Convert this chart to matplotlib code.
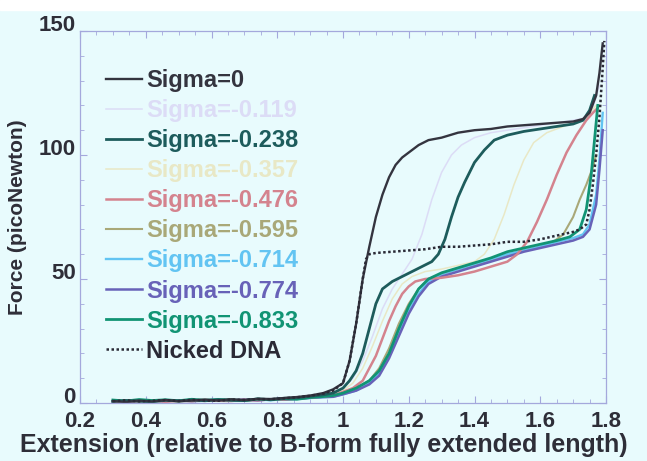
import numpy as np
import matplotlib
matplotlib.use('Agg')
import matplotlib.pyplot as plt
import matplotlib.ticker as mtick
from matplotlib.patches import Rectangle
from matplotlib.transforms import ScaledTranslation

plt.rcParams['font.family'] = ['Liberation Sans', 'DejaVu Sans']
plt.rcParams['font.weight'] = 'bold'
plt.rcParams['axes.labelweight'] = 'bold'

# shared low-force region (extension before overstretching)
ext_low = [0.30, 0.34, 0.38, 0.42, 0.46, 0.50, 0.54, 0.58, 0.62, 0.66,
           0.70, 0.74, 0.78, 0.82, 0.86, 0.90, 0.94]

# Sigma=0
s0_low = [0.8, 0.4, 1.0, 0.6, 1.2, 0.7, 1.0, 1.4, 1.0, 1.5, 1.2, 1.7, 1.6, 2.0, 2.4, 3.0, 4.0]
s0_x = [0.97, 1.00, 1.02, 1.04, 1.06, 1.08, 1.10, 1.12, 1.14, 1.16, 1.18, 1.20, 1.23, 1.26,
        1.30, 1.35, 1.40, 1.45, 1.50, 1.55, 1.60, 1.65, 1.70, 1.73, 1.75, 1.77, 1.78, 1.79]
s0_y = [5.5, 8, 17, 32, 50, 63, 75, 84, 91, 96, 99, 101, 104, 106,
        107, 109, 110, 110.5, 111.5, 112, 112.5, 113, 113.5, 114.5, 117, 124, 133, 145]

# Sigma=-0.119
s119_low = [0.5, 0.9, 0.4, 1.1, 0.7, 0.9, 1.3, 0.8, 1.2, 1.0, 1.5, 1.3, 1.8, 1.7, 2.2, 2.6, 3.2]
s119_x = [0.97, 1.00, 1.03, 1.06, 1.09, 1.12, 1.15, 1.18, 1.21, 1.24, 1.27, 1.30, 1.33, 1.36,
          1.40, 1.45, 1.50, 1.55, 1.60, 1.65, 1.70, 1.74, 1.76, 1.78]
s119_y = [4, 6, 10, 17, 27, 38, 46, 52, 58, 68, 82, 93, 100, 104,
          107, 109, 110, 111, 112, 113, 114, 115, 119, 128]

# Sigma=-0.238
s238_low = [0.6, 1.0, 0.7, 0.5, 1.1, 0.8, 1.2, 0.9, 1.3, 1.1, 1.0, 1.6, 1.4, 1.9, 2.1, 2.7, 3.3]
s238_x = [0.97, 1.00, 1.02, 1.04, 1.06, 1.08, 1.10, 1.12, 1.15, 1.18, 1.21, 1.24, 1.27, 1.29,
          1.31, 1.33, 1.35, 1.37, 1.40, 1.43, 1.46, 1.50, 1.55, 1.60, 1.65, 1.70, 1.73, 1.75, 1.765]
s238_y = [4, 6, 9, 13, 20, 30, 40, 46, 49, 51, 53, 55, 57, 60,
          66, 75, 83, 89, 97, 102, 106, 108, 109.5, 110.5, 111.5, 112.5, 114, 118, 124]

# Sigma=-0.357
s357_low = [0.7, 0.5, 0.9, 0.8, 0.6, 1.1, 0.9, 1.0, 0.8, 1.3, 1.2, 1.4, 1.6, 1.5, 2.0, 2.4, 3.0]
s357_x = [0.97, 1.00, 1.03, 1.06, 1.09, 1.12, 1.15, 1.18, 1.21, 1.25, 1.30, 1.35, 1.40, 1.43,
          1.46, 1.49, 1.52, 1.55, 1.58, 1.62, 1.66, 1.70, 1.74, 1.77]
s357_y = [3.5, 5, 8, 14, 23, 33, 42, 48, 51, 53, 54, 55.5, 57, 60,
          66, 76, 88, 98, 105, 109, 111, 113, 115, 120]

# Sigma=-0.476
s476_low = [0.4, 0.8, 0.6, 1.0, 0.5, 0.9, 0.7, 1.2, 0.9, 0.8, 1.3, 1.1, 1.5, 1.4, 1.8, 2.2, 2.6]
s476_x = [0.97, 1.00, 1.03, 1.06, 1.08, 1.10, 1.12, 1.14, 1.16, 1.18, 1.20, 1.22, 1.25, 1.30,
          1.35, 1.40, 1.45, 1.50, 1.53, 1.56, 1.59, 1.62, 1.65, 1.68, 1.71, 1.74, 1.76, 1.775]
s476_y = [3, 4.5, 6, 9, 14, 19, 26, 33, 39, 44, 47, 49, 50, 50.5,
          51.5, 53, 55, 57, 60, 65, 73, 82, 92, 101, 108, 114, 117, 119]

# Sigma=-0.595
s595_low = [0.9, 0.6, 1.1, 0.7, 1.0, 0.6, 1.2, 0.8, 1.0, 1.4, 0.9, 1.3, 1.2, 1.6, 1.7, 2.1, 2.5]
s595_x = [0.97, 1.00, 1.04, 1.08, 1.11, 1.14, 1.17, 1.20, 1.23, 1.26, 1.30, 1.35, 1.40, 1.45,
          1.50, 1.55, 1.60, 1.64, 1.67, 1.70, 1.72, 1.74, 1.76, 1.77]
s595_y = [3, 4, 6, 9, 14, 22, 32, 40, 46, 50, 52, 54, 55.5, 57.5,
          59.5, 61.5, 63, 65, 68, 75, 82, 88, 95, 100]

# Sigma=-0.714
s714_low = [0.5, 1.0, 0.8, 0.6, 1.2, 0.9, 0.7, 1.1, 1.3, 0.9, 1.2, 1.5, 1.1, 1.6, 1.9, 2.0, 2.3]
s714_x = [0.97, 1.00, 1.04, 1.08, 1.11, 1.14, 1.17, 1.20, 1.23, 1.26, 1.30, 1.35, 1.40, 1.45,
          1.50, 1.55, 1.60, 1.65, 1.70, 1.73, 1.75, 1.77, 1.78, 1.79]
s714_y = [2.5, 3.5, 5, 8, 12, 19, 28, 37, 44, 49, 52, 54, 56, 58,
          60, 61.5, 63, 65, 66.5, 68, 72, 84, 98, 117]

# Sigma=-0.774
s774_low = [0.6, 0.4, 0.9, 1.0, 0.7, 1.1, 0.8, 0.9, 1.2, 1.0, 1.4, 1.0, 1.5, 1.3, 1.7, 2.1, 2.4]
s774_x = [0.97, 1.00, 1.04, 1.08, 1.11, 1.14, 1.17, 1.20, 1.23, 1.26, 1.30, 1.35, 1.40, 1.45,
          1.50, 1.55, 1.60, 1.65, 1.70, 1.73, 1.75, 1.77, 1.78, 1.79]
s774_y = [2.5, 3.5, 5, 7.5, 11, 18, 27, 36, 43, 48, 51, 53, 55, 57,
          59, 61, 62.5, 64, 65.5, 67, 70, 80, 94, 110]

# Sigma=-0.833
s833_low = [1.2, 0.8, 1.4, 1.0, 1.3, 0.9, 1.5, 1.1, 1.4, 1.2, 1.0, 1.6, 1.3, 1.7, 1.5, 2.2, 2.6]
s833_x = [0.97, 1.00, 1.04, 1.08, 1.11, 1.14, 1.17, 1.20, 1.23, 1.26, 1.30, 1.35, 1.40, 1.45,
          1.50, 1.55, 1.60, 1.65, 1.69, 1.72, 1.74, 1.755, 1.765, 1.775]
s833_y = [3, 4, 6, 9, 13, 20, 30, 39, 46, 50, 52.5, 54.5, 56.5, 58.5,
          61, 62.5, 64, 65.5, 67, 70, 78, 92, 106, 120]

# Nicked DNA
nick_low = [0.7, 1.1, 0.6, 0.9, 1.2, 0.8, 1.3, 1.0, 0.9, 1.4, 1.2, 1.6, 1.5, 1.9, 2.3, 2.9, 3.8]
nick_x = [0.97, 1.00, 1.02, 1.04, 1.06, 1.07, 1.08, 1.10, 1.15, 1.20, 1.25, 1.30, 1.35, 1.40,
          1.45, 1.50, 1.55, 1.60, 1.65, 1.70, 1.72, 1.74, 1.75, 1.76, 1.77, 1.78, 1.79, 1.795]
nick_y = [5, 8, 17, 32, 50, 58, 60, 60.5, 61, 61.5, 62, 63, 63, 63.5,
          64, 65, 65, 66, 67.5, 69, 70, 72, 78, 88, 100, 115, 135, 146]

labels = ['Sigma=0', 'Sigma=-0.119', 'Sigma=-0.238', 'Sigma=-0.357', 'Sigma=-0.476',
          'Sigma=-0.595', 'Sigma=-0.714', 'Sigma=-0.774', 'Sigma=-0.833', 'Nicked DNA']
colors = ['#34343f', '#dcdcf6', '#1d5c5c', '#e8e8c6', '#d4838e',
          '#a9a878', '#62c4f2', '#6862b8', '#119474', '#2a2a36']
widths = [1.7, 1.1, 2.0, 1.1, 1.8, 1.5, 1.7, 1.8, 2.0, 1.8]

series = [(s0_low, s0_x, s0_y), (s119_low, s119_x, s119_y), (s238_low, s238_x, s238_y),
          (s357_low, s357_x, s357_y), (s476_low, s476_x, s476_y), (s595_low, s595_x, s595_y),
          (s714_low, s714_x, s714_y), (s774_low, s774_x, s774_y), (s833_low, s833_x, s833_y),
          (nick_low, nick_x, nick_y)]

bg = '#e8fbfd'
spine_col = '#a4a8dc'
text_col = '#2e2e38'

fig = plt.figure(figsize=(6.47, 4.61), dpi=100, facecolor=bg)
ax = fig.add_axes([80 / 647, 58 / 461, 526 / 647, 372 / 461], facecolor=bg)
fig.add_artist(Rectangle((0, 1 - 10 / 461), 1, 10 / 461, transform=fig.transFigure,
                         color='white', zorder=0))

# draw back to front so the darker curves sit on top
order = [1, 3, 5, 6, 7, 4, 8, 2, 0, 9]
handles = {}
for i in order:
    low, xs, ys = series[i]
    x = np.concatenate([ext_low, xs])
    y = np.concatenate([low, ys])
    ls = (0, (1, 1)) if i == 9 else '-'
    h, = ax.plot(x, y, color=colors[i], lw=widths[i], ls=ls, label=labels[i])
    handles[i] = h

ax.set_xlim(0.2, 1.8)
ax.set_ylim(0, 150)
ax.xaxis.set_major_locator(mtick.MultipleLocator(0.2))
ax.xaxis.set_minor_locator(mtick.MultipleLocator(0.05))
ax.yaxis.set_major_locator(mtick.MultipleLocator(50))
ax.yaxis.set_minor_locator(mtick.MultipleLocator(10))
ax.xaxis.set_major_formatter(mtick.FuncFormatter(lambda v, p: f'{v:g}'))

ax.tick_params(which='both', direction='in', top=True, right=True, color=spine_col,
               labelcolor=text_col, labelsize=16, pad=3)
ax.tick_params(axis='x', which='major', pad=6)
ax.tick_params(which='major', length=5, width=0.8)
ax.tick_params(which='minor', length=3, width=0.6)
for sp in ax.spines.values():
    sp.set_color(spine_col)
    sp.set_linewidth(0.9)

# y tick labels sit a little above their ticks in the original
shift = ScaledTranslation(0, 8 / 100, fig.dpi_scale_trans)
for lab in ax.get_yticklabels():
    lab.set_transform(lab.get_transform() + shift)
    lab.set_fontsize(16)

ax.set_xlabel('Extension (relative to B-form fully extended length)', fontsize=18,
              color=text_col)
ax.xaxis.set_label_coords(0.464, -0.08)
ax.set_ylabel('Force (picoNewton)', fontsize=15, color=text_col)
ax.yaxis.set_label_coords(-0.1, 0.5)

leg = ax.legend([handles[i] for i in range(10)], labels, loc='upper left',
                bbox_to_anchor=(0.05, 0.898), frameon=False, fontsize=17,
                handlelength=1.5, handletextpad=0.2, labelspacing=0.3,
                borderpad=0, borderaxespad=0)
for t, c in zip(leg.get_texts(), colors):
    t.set_color(c)

fig.savefig('out.png', dpi=100, facecolor=bg)
